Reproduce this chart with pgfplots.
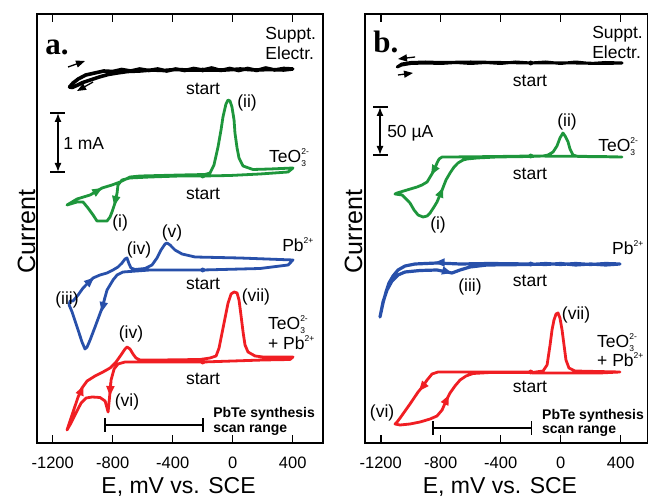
\documentclass[border=0pt]{standalone}
\usepackage{fontspec}
\setmainfont{Liberation Sans}
\newfontfamily\serif{Liberation Serif}
\usepackage{pgfplots}
\pgfplotsset{compat=1.18}
\usetikzlibrary{arrows.meta}

\definecolor{cvgreen}{RGB}{30,150,60}
\definecolor{cvblue}{RGB}{40,80,170}
\definecolor{cvred}{RGB}{240,30,35}

% annotation font and ion charges
\newcommand\fa{\fontsize{17.5}{20}\selectfont}
\newcommand\ion[2]{\makebox[0pt][l]{\raisebox{-4pt}{\fontsize{8.5}{9}\selectfont #1}}\raisebox{8pt}{\fontsize{8.5}{9}\selectfont #2}}

\pgfplotsset{
  panel/.style={
    scale only axis, height=429pt, anchor=south west,
    ymin=57, ymax=486, clip=false,
    axis line style={line width=1.8pt},
    xtick={-1200,-800,-400,0,400},
    xticklabels={-1200,-800,-400,0,400},
    ytick=\empty,
    tick align=inside, xtick pos=both,
    major tick length=8pt,
    every tick/.append style={line width=1.5pt, black},
    xticklabel style={font=\fontsize{16.5}{18}\selectfont, inner sep=0pt, yshift=-14pt},
  },
  cv/.style={line width=2.8pt, line join=round, line cap=round},
  arr/.style={line width=2pt, -{Triangle[length=10pt,width=8pt]}},
}
\tikzset{lab/.style={font=\fa, inner sep=0pt}}

\begin{document}
\begin{tikzpicture}
\useasboundingbox (0pt,0pt) rectangle (648pt,500pt);

% ---------------- panel a ----------------
\begin{axis}[panel, at={(37pt,57pt)}, width=286pt, xmin=-1305, xmax=602]
% supporting electrolyte
\addplot[black, line width=3.6pt, line join=round] coordinates {
  (-200,430) (-260,431.5) (-320,429.5) (-380,431) (-440,429) (-500,431) (-560,429.5)
  (-620,431) (-680,429) (-740,430.5) (-800,428.5) (-860,429) (-920,427) (-980,425)
  (-1030,421) (-1065,417) (-1088,413) (-1070,412.5) (-1040,414.5) (-1000,417.5)
  (-950,420) (-890,423) (-830,425.5) (-770,427) (-700,428.5) (-620,429) (-540,430)
  (-460,429.5) (-380,430.5) (-300,430) (-200,430) (-140,432) (-80,429.5) (-20,431.5)
  (40,429.5) (100,431.5) (160,429.5) (220,432) (280,430) (340,431.5) (400,431)
  (340,430) (250,430.5) (150,430) (50,431) (-50,430) (-200,430)};
\addplot[black, line width=1.3pt, -{Triangle[length=9pt,width=7pt]}] coordinates {(-1098,433) (-985,439)};
\addplot[black, line width=1.3pt, -{Triangle[length=9pt,width=7pt]}] coordinates {(-931,418) (-1038,409)};
% TeO3
\addplot[cvgreen, cv] coordinates {
  (-198,324) (-351,324) (-551,323) (-685,322) (-738,320) (-765,315) (-771,307)
  (-785,297) (-805,288) (-818,283) (-838,279) (-871,279) (-905,279) (-931,285)
  (-965,292) (-998,298) (-1038,298) (-1105,295) (-1038,301) (-951,305) (-871,312)
  (-805,315) (-751,318) (-685,323) (-618,324) (-351,325) (-185,325.5) (-151,327)
  (-125,335) (-98,353) (-78,370) (-65,383) (-45,396) (-31,400) (-18,399) (-5,393)
  (9,380) (15,367) (29,352) (42,342) (69,334) (135,330.5) (249,331) (402,332)
  (369,328) (182,326) (-18,324.5) (-198,324)};
\addplot[cvgreen, arr] coordinates {(-915,308) (-870,312)};
\addplot[cvgreen, arr] coordinates {(-775,305) (-790,294)};
% Pb2+
\addplot[cvblue, cv] coordinates {
  (-198,230) (-551,230) (-731,228) (-771,225) (-798,220) (-838,210) (-871,192)
  (-918,173) (-951,160) (-971,153) (-985,151) (-1005,158) (-1031,170) (-1051,179)
  (-1071,188) (-1091,195) (-1085,199) (-1065,199) (-1031,205) (-998,212) (-965,217)
  (-931,222) (-885,225) (-838,227) (-798,230) (-765,233) (-738,237) (-718,241)
  (-705,242) (-691,236) (-678,232) (-651,230.5) (-585,231.5) (-538,235) (-505,242)
  (-478,250) (-451,256) (-438,257) (-418,255) (-385,250) (-338,246) (-251,243)
  (49,242) (402,240) (369,235) (182,231.5) (-198,230)};
\addplot[cvblue, arr] coordinates {(-965,217) (-925,222.5)};
\addplot[cvblue, arr] coordinates {(-852,203) (-874,188)};
% TeO3 + Pb2+
\addplot[cvred, cv] coordinates {
  (-198,138) (-485,138) (-718,138) (-765,136) (-791,131) (-811,120) (-818,108)
  (-825,97) (-831,88) (-838,92) (-851,99) (-885,102.5) (-938,103) (-978,102)
  (-1011,97) (-1045,87) (-1078,77) (-1105,70) (-1085,79) (-1058,91) (-1031,103)
  (-1005,112) (-971,119) (-918,124) (-865,128) (-818,132) (-778,138) (-745,145)
  (-718,151) (-705,153) (-685,151) (-665,146) (-645,142) (-618,140) (-485,140)
  (-218,140.5) (-151,142) (-111,144) (-91,152) (-71,167) (-51,182) (-31,197)
  (-11,206) (9,208) (29,207) (42,200) (55,185) (69,168) (82,155) (102,148)
  (149,144) (202,143) (402,143) (382,140.5) (202,140) (-198,138)};
\addplot[cvred, arr] coordinates {(-1025,104) (-995,114.5)};
\addplot[cvred, arr] coordinates {(-815,117) (-819,104)};
% start points
\addplot[only marks, mark=*, mark size=2.2pt, black] coordinates {(-200,430)};
\addplot[only marks, mark=*, mark size=2.2pt, cvgreen] coordinates {(-200,324)};
\addplot[only marks, mark=*, mark size=2.2pt, cvblue] coordinates {(-200,230)};
\addplot[only marks, mark=*, mark size=2.2pt, cvred] coordinates {(-200,138)};
% scale bar and scan range
\draw[line width=1.4pt, {Latex[length=9pt,width=7pt]}-{Latex[length=9pt,width=7pt]}] (axis cs:-1165,328) -- (axis cs:-1165,387);
\draw[line width=1.4pt] (axis cs:-1218,328) -- (axis cs:-1118,328) (axis cs:-1218,387) -- (axis cs:-1118,387);
\draw[line width=1.6pt] (axis cs:-850,75) -- (axis cs:-200,75) (axis cs:-850,68) -- (axis cs:-850,82) (axis cs:-200,68) -- (axis cs:-200,82);
% texts
\node[anchor=base west, inner sep=0pt, font=\serif\bfseries\fontsize{31}{34}\selectfont] at (axis cs:-1251,445) {a.};
\node[lab, anchor=base west] at (axis cs:217,460) {Suppt.};
\node[lab, anchor=base west] at (axis cs:217,440) {Electr.};
\node[lab, anchor=base west] at (axis cs:-1131,350) {1 mA};
\node[lab, anchor=base west] at (axis cs:242,337) {TeO\ion{3}{2-}};
\node[lab, anchor=base west] at (axis cs:329,248) {Pb\ion{}{2+}};
\node[lab, anchor=base west] at (axis cs:235,170) {TeO\ion{3}{2-}};
\node[lab, anchor=base west] at (axis cs:235,150) {+ Pb\ion{}{2+}};
\node[lab, anchor=base] at (axis cs:-198,405) {start};
\node[lab, anchor=base] at (axis cs:-198,300) {start};
\node[lab, anchor=base] at (axis cs:-198,210) {start};
\node[lab, anchor=base] at (axis cs:-198,115) {start};
\node[lab] at (axis cs:96,397) {(ii)};
\node[lab] at (axis cs:-751,277) {(i)};
\node[lab] at (axis cs:-405,267) {(v)};
\node[lab] at (axis cs:-625,250) {(iv)};
\node[lab] at (axis cs:-1105,200) {(iii)};
\node[lab] at (axis cs:155,203) {(vii)};
\node[lab] at (axis cs:-678,166) {(iv)};
\node[lab] at (axis cs:-705,98) {(vi)};
\node[anchor=base west, inner sep=0pt, font=\bfseries\fontsize{14}{16}\selectfont] at (axis cs:-131,82) {PbTe synthesis};
\node[anchor=base west, inner sep=0pt, font=\bfseries\fontsize{14}{16}\selectfont] at (axis cs:-131,67) {scan range};
\node[anchor=base, inner sep=0pt, rotate=90, font=\fontsize{25}{28}\selectfont] at (axis cs:-1318,268.5) {Current};
\node[anchor=base, inner sep=0pt, font=\fontsize{23}{26}\selectfont] at (axis cs:-361,6) {E, mV vs. SCE};
\end{axis}

% ---------------- panel b ----------------
\begin{axis}[panel, at={(365pt,57pt)}, width=283pt, xmin=-1305, xmax=582]
\addplot[black, line width=3pt, line join=round] coordinates {
  (-200,437) (-300,438) (-400,436.5) (-500,437.5) (-600,436.5) (-700,437.5)
  (-800,436.5) (-900,437) (-1000,436.5) (-1060,435) (-1090,433) (-1060,436)
  (-1000,437.5) (-900,438) (-800,437.5) (-600,438) (-400,437.5) (-200,437)
  (-100,438) (0,436.5) (100,438) (200,436.5) (300,437.5) (409,437) (300,436.5)
  (100,437) (-100,437) (-200,437)};
\addplot[black, line width=1.3pt, -{Triangle[length=9pt,width=7pt]}] coordinates {(-971,443) (-1085,441)};
\addplot[black, line width=1.3pt, -{Triangle[length=9pt,width=7pt]}] coordinates {(-1085,425) (-985,427)};
\addplot[cvgreen, cv] coordinates {
  (-205,344) (-425,343.5) (-738,343) (-791,343) (-811,341) (-825,337) (-838,332)
  (-851,328) (-871,323) (-891,318) (-925,315) (-958,313) (-1025,310) (-1091,307)
  (-1105,306) (-1058,305) (-1031,301) (-1005,297) (-978,290) (-951,285) (-918,283)
  (-891,284) (-871,287) (-845,293) (-825,298) (-791,310) (-765,320) (-738,327)
  (-711,333) (-685,337) (-651,340) (-625,341) (-558,342) (-425,343) (-205,343.5)
  (-118,344) (-85,345) (-51,348) (-25,354) (-5,362) (15,367) (29,364) (49,358)
  (62,351) (82,345) (115,343.5) (409,343) (262,343.5) (-205,344)};
\addplot[cvgreen, arr] coordinates {(-840,331.5) (-865,325)};
\addplot[cvgreen, arr] coordinates {(-805,305) (-785,312.5)};
\addplot[cvblue, line width=3.2pt, line join=round, line cap=round] coordinates {
  (-205,236) (-471,236.5) (-671,236) (-825,237) (-971,236) (-1038,234) (-1085,230)
  (-1118,224) (-1145,217) (-1165,208) (-1185,197) (-1205,183) (-1185,198)
  (-1158,210) (-1125,219) (-1085,225) (-1038,228) (-938,229.5) (-825,230)
  (-758,228) (-725,227) (-671,230) (-605,233) (-491,235) (-205,235.5) (-100,236.5)
  (0,235.5) (100,236.5) (200,235.5) (300,236.5) (395,236) (300,235) (200,236)
  (100,235) (0,236.5) (-100,235.5) (-205,236)};
\addplot[cvblue, arr] coordinates {(-790,237.5) (-840,237.5)};
\addplot[cvblue, arr] coordinates {(-775,229) (-725,227)};
\addplot[cvred, cv] coordinates {
  (-191,128) (-471,128) (-818,128) (-858,126) (-891,120) (-918,114) (-951,108)
  (-978,102) (-1005,96) (-1038,89) (-1071,82) (-1091,78) (-1105,76) (-1071,75)
  (-1005,76) (-938,78) (-871,81) (-825,84) (-791,90) (-765,99) (-738,107)
  (-705,114) (-671,120) (-631,124) (-585,126.5) (-471,127.5) (-191,127.5)
  (-118,129) (-91,135) (-71,155) (-58,170) (-45,180) (-31,186) (-18,187) (-5,182)
  (9,170) (22,155) (35,140) (55,132) (95,129) (395,128) (262,127) (-191,127)};
\addplot[cvred, arr] coordinates {(-920,113.5) (-945,109)};
\addplot[cvred, arr] coordinates {(-768,98) (-745,105)};
\addplot[only marks, mark=*, mark size=2.2pt, black] coordinates {(-200,437)};
\addplot[only marks, mark=*, mark size=2.2pt, cvgreen] coordinates {(-200,344)};
\addplot[only marks, mark=*, mark size=2.2pt, cvblue] coordinates {(-200,236)};
\addplot[only marks, mark=*, mark size=2.2pt, cvred] coordinates {(-200,128)};
\draw[line width=1.4pt, {Latex[length=9pt,width=7pt]}-{Latex[length=9pt,width=7pt]}] (axis cs:-1205,345) -- (axis cs:-1205,393);
\draw[line width=1.4pt] (axis cs:-1251,345) -- (axis cs:-1151,345) (axis cs:-1251,393) -- (axis cs:-1151,393);
\draw[line width=1.6pt] (axis cs:-850,72) -- (axis cs:-195,72) (axis cs:-850,65) -- (axis cs:-850,79) (axis cs:-195,65) -- (axis cs:-195,79);
\node[anchor=base west, inner sep=0pt, font=\serif\bfseries\fontsize{31}{34}\selectfont] at (axis cs:-1251,447) {b.};
\node[lab, anchor=base west] at (axis cs:209,461) {Suppt.};
\node[lab, anchor=base west] at (axis cs:209,441) {Electr.};
\node[lab, anchor=base west] at (axis cs:-1158,362) {50 µA};
\node[lab, anchor=base west] at (axis cs:249,348) {TeO\ion{3}{2-}};
\node[lab, anchor=base west] at (axis cs:342,245) {Pb\ion{}{2+}};
\node[lab, anchor=base west] at (axis cs:242,152) {TeO\ion{3}{2-}};
\node[lab, anchor=base west] at (axis cs:242,133) {+ Pb\ion{}{2+}};
\node[lab, anchor=base] at (axis cs:-205,413) {start};
\node[lab, anchor=base] at (axis cs:-205,320) {start};
\node[lab, anchor=base] at (axis cs:-205,213) {start};
\node[lab, anchor=base] at (axis cs:-205,107) {start};
\node[lab] at (axis cs:42,378) {(ii)};
\node[lab] at (axis cs:-818,275) {(i)};
\node[lab] at (axis cs:-605,213) {(iii)};
\node[lab] at (axis cs:102,185) {(vii)};
\node[lab] at (axis cs:-1191,87) {(vi)};
\node[anchor=base west, inner sep=0pt, font=\bfseries\fontsize{14}{16}\selectfont] at (axis cs:-125,80) {PbTe synthesis};
\node[anchor=base west, inner sep=0pt, font=\bfseries\fontsize{14}{16}\selectfont] at (axis cs:-125,66) {scan range};
\node[anchor=base, inner sep=0pt, rotate=90, font=\fontsize{25}{28}\selectfont] at (axis cs:-1325,268.5) {Current};
\node[anchor=base, inner sep=0pt, font=\fontsize{23}{26}\selectfont] at (axis cs:-405,6) {E, mV vs. SCE};
\end{axis}
\end{tikzpicture}
\end{document}
